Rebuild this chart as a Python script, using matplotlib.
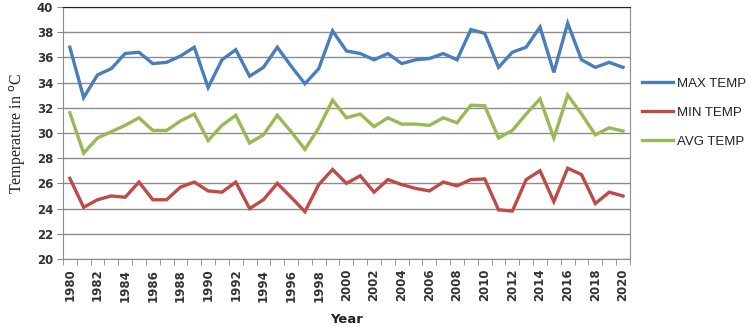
import matplotlib
matplotlib.use("Agg")
import matplotlib.pyplot as plt
import numpy as np

years = list(range(1980, 2021))
max_temp = [36.8, 32.8, 34.6, 35.1, 36.3, 36.4, 35.5, 35.6, 36.1, 36.8,
            33.6, 35.8, 36.6, 34.5, 35.2, 36.8, 35.3, 33.9, 35.1, 38.1,
            36.5, 36.3, 35.8, 36.3, 35.5, 35.8, 35.9, 36.3, 35.8, 38.2,
            37.9, 35.2, 36.4, 36.8, 38.4, 34.8, 38.7, 35.8, 35.2, 35.6, 35.2]
min_temp = [26.4, 24.1, 24.7, 25.0, 24.9, 26.1, 24.7, 24.7, 25.7, 26.1,
            25.4, 25.3, 26.1, 24.0, 24.7, 26.0, 24.9, 23.75, 25.9, 27.1,
            26.0, 26.6, 25.3, 26.3, 25.9, 25.6, 25.4, 26.1, 25.8, 26.3,
            26.35, 23.9, 23.8, 26.3, 27.0, 24.55, 27.2, 26.7, 24.4, 25.3, 25.0]
avg_temp = [31.6, 28.4, 29.6, 30.1, 30.6, 31.2, 30.2, 30.2, 30.95, 31.5,
            29.4, 30.6, 31.4, 29.2, 29.85, 31.4, 30.1, 28.7, 30.4, 32.6,
            31.2, 31.5, 30.5, 31.2, 30.7, 30.7, 30.6, 31.2, 30.8, 32.2,
            32.15, 29.6, 30.2, 31.5, 32.7, 29.6, 33.0, 31.5, 29.85, 30.4, 30.15]
series_names = ["MAX TEMP", "MIN TEMP", "AVG TEMP"]
yticks = list(range(20, 41, 2))

fig = plt.figure(figsize=(7.49, 3.27), dpi=100)
ax = fig.add_axes([0.084, 0.208, 0.757, 0.771])

x = np.arange(len(years))
colors = ["#4A7EBB", "#BE4B48", "#98B954"]
for vals, name, c in zip([max_temp, min_temp, avg_temp], series_names, colors):
    ax.plot(x, vals, color=c, lw=2.4, label=name, solid_joinstyle="miter")

ax.set_xlim(-0.5, len(years) - 0.5)
ax.set_ylim(20, 40)
ax.set_yticks(yticks)
ax.set_yticklabels([str(v) for v in yticks], fontsize=8.5, fontweight="bold", color="#333333")
ax.yaxis.grid(True, color="#8c8c8c", lw=1)
ax.set_axisbelow(True)

ax.set_xticks(x[::2])
ax.set_xticklabels([str(y) for y in years[::2]], rotation=90, fontsize=8.5,
                   fontweight="bold", color="#333333")
ax.set_xticks(np.arange(-0.5, len(years), 1), minor=True)
ax.tick_params(axis="x", which="major", length=0, pad=7)
ax.tick_params(axis="x", which="minor", length=4, color="#8c8c8c")
ax.tick_params(axis="y", length=4, color="#8c8c8c", pad=3)

for s in ["left", "bottom", "right"]:
    ax.spines[s].set_color("#8c8c8c")
ax.spines["top"].set_color("#222222")

ax.set_xlabel("Year", fontsize=9.5, fontweight="bold", color="#222222", labelpad=8)
ax.set_ylabel("Temperature in $^{\\mathrm{o}}$C", fontsize=11.5, family="Liberation Serif",
              color="#222222", labelpad=6)

leg = fig.legend(*ax.get_legend_handles_labels(), loc="upper left",
                 bbox_to_anchor=(0.857, 0.762), frameon=False, borderpad=0,
                 borderaxespad=0, prop={"family": "Liberation Sans", "size": 9.5},
                 handlelength=2.35, handletextpad=0.3, labelspacing=1.25)
for t in leg.get_texts():
    t.set_color("#222222")

fig.savefig("out.png", dpi=100)
